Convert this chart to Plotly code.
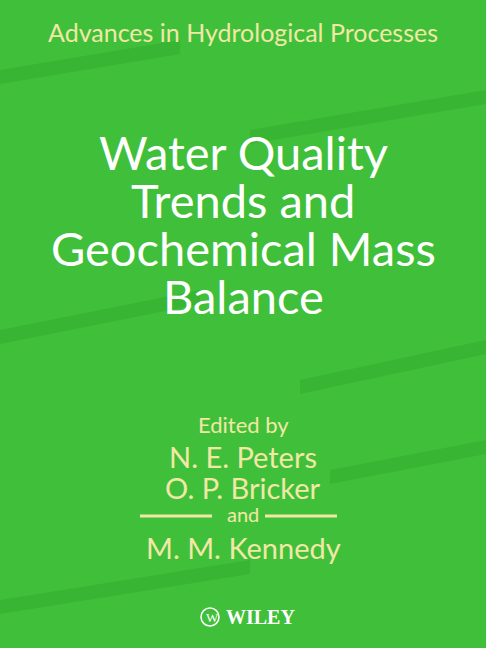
import plotly.graph_objects as go

W, H = 486, 648
series_title = "Advances in Hydrological Processes"
title_lines = ["Water Quality", "Trends and", "Geochemical Mass", "Balance"]
title_rows = [152, 200, 248, 296]
editors_label = "Edited by"
editors = ["N. E. Peters", "O. P. Bricker", "M. M. Kennedy"]
editor_rows = [456, 487, 547]
publisher = "WILEY"

cream = "#f2e8a6"
fig = go.Figure()

def py(px):
    return 1 - px / H

ann = []
ann.append(dict(text=series_title, x=0.5, y=py(32), font=dict(size=25, color=cream, family="Lato")))
for line, row in zip(title_lines, title_rows):
    ann.append(dict(text=line, x=0.5, y=py(row), font=dict(size=47, color="white", family="Lato")))
ann.append(dict(text=editors_label, x=0.5, y=py(424), font=dict(size=22, color=cream, family="Lato")))
for name, row in zip(editors, editor_rows):
    ann.append(dict(text=name, x=0.5, y=py(row), font=dict(size=29, color=cream, family="Lato")))
ann.append(dict(text="and", x=0.5, y=py(514), font=dict(size=20, color=cream, family="Lato")))
ann.append(dict(text="<b>" + publisher + "</b>", x=0.535, y=py(617), font=dict(size=20, color="white", family="Liberation Serif")))
ann.append(dict(text="W", x=0.437, y=py(617), font=dict(size=13, color="white", family="Liberation Serif")))
for a in ann:
    a.update(xref="paper", yref="paper", showarrow=False, xanchor="center", yanchor="middle")

shapes = [
    dict(type="line", xref="paper", yref="paper", x0=140 / W, x1=212 / W, y0=py(516), y1=py(516),
         line=dict(color=cream, width=3)),
    dict(type="line", xref="paper", yref="paper", x0=265 / W, x1=337 / W, y0=py(516), y1=py(516),
         line=dict(color=cream, width=3)),
    dict(type="circle", xref="paper", yref="paper", x0=201 / W, x1=219 / W, y0=py(608), y1=py(626),
         line=dict(color="white", width=1.5)),
]
# darker streaks of the water texture
streaks = [(0, 70, 180, 40), (250, 130, 486, 90), (0, 330, 200, 290), (300, 380, 486, 340),
           (0, 600, 250, 560), (330, 470, 486, 440)]
for x0, y0, x1, y1 in streaks:
    shapes.append(dict(type="path", xref="paper", yref="paper", layer="below",
                       path=f"M {x0/W},{py(y0)} L {x1/W},{py(y1)} L {x1/W},{py(y1+14)} L {x0/W},{py(y0+14)} Z",
                       fillcolor="rgba(30,140,30,0.22)", line=dict(width=0)))

fig.update_layout(width=W, height=H, margin=dict(l=0, r=0, t=0, b=0),
                  paper_bgcolor="#40c03a", plot_bgcolor="#40c03a",
                  xaxis=dict(visible=False), yaxis=dict(visible=False),
                  annotations=ann, shapes=shapes)
fig.write_html("out.html", config={"displayModeBar": False},
               post_script="document.body.style.margin='0';")
